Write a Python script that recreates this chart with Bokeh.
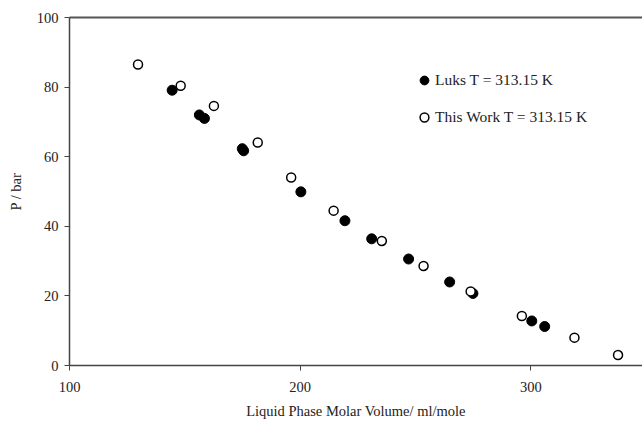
from bokeh.plotting import figure
from bokeh.models import Range1d, LinearAxis, Legend, LegendItem, FixedTicker
from bokeh.embed import file_html
from bokeh.resources import INLINE

# Data
luks_v = [144.5, 156.3, 158.5, 174.9, 175.5, 200.3, 219.4, 231.0, 247.0, 264.8, 274.9, 300.4, 306.0]
luks_p = [79.1, 72.0, 71.0, 62.3, 61.7, 49.9, 41.6, 36.4, 30.6, 24.0, 20.7, 12.8, 11.2]
work_v = [129.7, 148.2, 162.6, 181.6, 196.1, 214.5, 235.4, 253.5, 273.9, 296.1, 318.9, 337.8]
work_p = [86.5, 80.4, 74.6, 64.1, 54.0, 44.5, 35.8, 28.6, 21.3, 14.2, 8.0, 3.0]

x_ticks = [100, 200, 300]
y_ticks = [0, 20, 40, 60, 80, 100]

FONT = "Liberation Serif"
AX = "#444444"

p = figure(width=642, height=422, output_backend="svg", toolbar_location=None,
           x_range=Range1d(100, 348.4), y_range=Range1d(0, 100),
           min_border_left=69, min_border_right=0, min_border_top=17, min_border_bottom=57,
           x_axis_label="Liquid Phase Molar Volume/ ml/mole", y_axis_label="P / bar")
p.outline_line_color = None
p.grid.visible = False
p.background_fill_color = "white"
p.border_fill_color = "white"

for ax in (p.xaxis[0], p.yaxis[0]):
    ax.axis_line_color = AX
    ax.axis_line_width = 1.5
    ax.major_tick_line_color = AX
    ax.major_tick_in = 0
    ax.major_tick_out = 5
    ax.minor_tick_line_color = None
    ax.major_label_text_font = FONT
    ax.major_label_text_font_size = "14.5px"
    ax.major_label_text_color = "#222222"
    ax.axis_label_text_font = FONT
    ax.axis_label_text_font_size = "14.5px"
    ax.axis_label_text_font_style = "normal"
    ax.axis_label_text_color = "#222222"

p.xaxis[0].ticker = FixedTicker(ticks=x_ticks)
p.yaxis[0].ticker = FixedTicker(ticks=y_ticks)
p.xaxis[0].major_label_standoff = 11
p.yaxis[0].major_label_standoff = 6
p.xaxis[0].axis_label_standoff = 8
p.yaxis[0].axis_label_standoff = 10

top = LinearAxis(ticker=FixedTicker(ticks=[]), major_label_text_font_size="0px",
                 axis_line_color="#555555", axis_line_width=2,
                 major_tick_line_color=None, minor_tick_line_color=None)
p.add_layout(top, "above")

r1 = p.scatter(luks_v, luks_p, marker="circle", size=10, fill_color="black", line_color="black")
r2 = p.scatter(work_v, work_p, marker="circle", size=9, fill_color="white", line_color="black", line_width=1.5)

legend = Legend(items=[LegendItem(label="Luks T = 313.15 K", renderers=[r1]),
                       LegendItem(label="This Work T = 313.15 K", renderers=[r2])],
                location=(344, 237), border_line_color=None, background_fill_alpha=0,
                label_text_font=FONT, label_text_font_size="15.5px", label_text_color="#222222",
                glyph_width=22, glyph_height=22, label_height=20, spacing=15, label_standoff=-5,
                padding=10, margin=0)
p.add_layout(legend, "center")

open("out.html", "w").write(file_html(p, INLINE))
